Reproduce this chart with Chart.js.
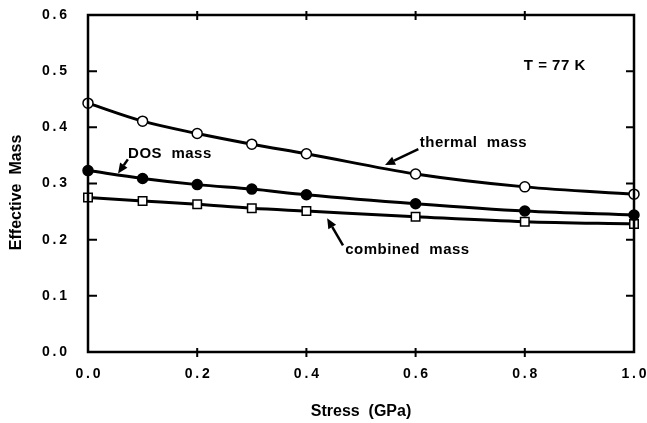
<!DOCTYPE html>
<html>
<head>
<meta charset="utf-8">
<script src="https://cdn.jsdelivr.net/npm/chart.js@4"></script>
<style>
  html, body { margin: 0; padding: 0; background: #fff; }
  #wrap { width: 647px; height: 423px; }
</style>
</head>
<body>
<div id="wrap"><canvas id="chart"></canvas></div>
<script>
const stress = [0.0, 0.1, 0.2, 0.3, 0.4, 0.6, 0.8, 1.0]
const thermalMass = [0.443, 0.411, 0.389, 0.370, 0.353, 0.317, 0.294, 0.281]
const dosMass = [0.323, 0.309, 0.298, 0.290, 0.280, 0.264, 0.251, 0.244]
const combinedMass = [0.275, 0.269, 0.263, 0.256, 0.251, 0.241, 0.232, 0.228]

const xTicks = [0, 0.2, 0.4, 0.6, 0.8, 1.0]
const yTicks = [0, 0.1, 0.2, 0.3, 0.4, 0.5, 0.6]

// annotation texts and arrows, in data units
const notes = [
  { text: 'T = 77 K', x: 0.855, y: 0.51 },
  { text: 'thermal  mass', x: 0.706, y: 0.3726 },
  { text: 'DOS  mass', x: 0.150, y: 0.3525 },
  { text: 'combined  mass', x: 0.585, y: 0.181 }
]
const arrows = [
  { from: [0.605, 0.361], to: [0.544, 0.333] },
  { from: [0.073, 0.343], to: [0.055, 0.318] },
  { from: [0.467, 0.190], to: [0.438, 0.238] }
]

const FONT = '"Liberation Sans", Arial, Helvetica, sans-serif'

function toXY(xs, ys) {
  return xs.map((x, i) => ({ x: x, y: ys[i] }))
}

function spaced(v) {
  return v.toFixed(1).split('').join('\u2009')
}

function noPad(s) {
  s.paddingLeft = 0
  s.paddingRight = 0
  s.paddingTop = 0
  s.paddingBottom = 0
}

const frame = {
  id: 'frame',
  afterDatasetsDraw(chart) {
    const { ctx, chartArea: a, scales: { x, y } } = chart
    ctx.save()
    ctx.strokeStyle = '#000'
    ctx.lineWidth = 2.5
    ctx.strokeRect(a.left, a.top, a.right - a.left, a.bottom - a.top)
    ctx.lineWidth = 2
    ctx.beginPath()
    yTicks.slice(1, -1).forEach(v => {
      const py = y.getPixelForValue(v)
      ctx.moveTo(a.left, py); ctx.lineTo(a.left + 9, py)
      ctx.moveTo(a.right, py); ctx.lineTo(a.right - 8, py)
    })
    xTicks.slice(1, -1).forEach(v => {
      const px = x.getPixelForValue(v)
      ctx.moveTo(px, a.top - 4); ctx.lineTo(px, a.top + 5)
      ctx.moveTo(px, a.bottom - 4); ctx.lineTo(px, a.bottom + 5)
    })
    ctx.stroke()

    ctx.fillStyle = '#000'
    ctx.font = 'bold 15px ' + FONT
    ctx.letterSpacing = '0.5px'
    ctx.textAlign = 'center'
    ctx.textBaseline = 'middle'
    notes.forEach(n => {
      ctx.fillText(n.text, x.getPixelForValue(n.x), y.getPixelForValue(n.y))
    })

    arrows.forEach(ar => {
      const x0 = x.getPixelForValue(ar.from[0]), y0 = y.getPixelForValue(ar.from[1])
      const x1 = x.getPixelForValue(ar.to[0]), y1 = y.getPixelForValue(ar.to[1])
      const ang = Math.atan2(y1 - y0, x1 - x0)
      const hl = 10, hw = 4.5
      const bx = x1 - hl * Math.cos(ang), by = y1 - hl * Math.sin(ang)
      ctx.lineWidth = 2.5
      ctx.beginPath()
      ctx.moveTo(x0, y0); ctx.lineTo(bx, by)
      ctx.stroke()
      ctx.beginPath()
      ctx.moveTo(x1, y1)
      ctx.lineTo(bx + hw * Math.sin(ang), by - hw * Math.cos(ang))
      ctx.lineTo(bx - hw * Math.sin(ang), by + hw * Math.cos(ang))
      ctx.closePath()
      ctx.fill()
    })
    ctx.restore()
  }
}

const base = {
  borderColor: '#000',
  borderWidth: 3,
  pointRadius: 5,
  pointBorderWidth: 1.5,
  pointBorderColor: '#000',
  cubicInterpolationMode: 'monotone',
  clip: false
}

new Chart(document.getElementById('chart'), {
  type: 'line',
  data: {
    datasets: [
      { ...base, label: 'thermal mass', data: toXY(stress, thermalMass),
        pointStyle: 'circle', pointBackgroundColor: '#fff' },
      { ...base, label: 'DOS mass', data: toXY(stress, dosMass),
        pointStyle: 'circle', pointBackgroundColor: '#000' },
      { ...base, label: 'combined mass', data: toXY(stress, combinedMass),
        pointStyle: 'rect', pointRadius: 6, pointBackgroundColor: '#fff' }
    ]
  },
  options: {
    responsive: true,
    maintainAspectRatio: false,
    animation: false,
    layout: { padding: { top: 15, right: 13, bottom: 0, left: 0 } },
    plugins: { legend: { display: false }, tooltip: { enabled: false } },
    scales: {
      x: {
        type: 'linear', min: 0, max: 1,
        border: { display: false },
        grid: { display: false, drawTicks: false },
        afterFit: s => { s.height = 71; noPad(s) },
        afterBuildTicks: s => { s.ticks = xTicks.map(v => ({ value: v })) },
        ticks: {
          color: '#000', padding: 14, maxRotation: 0,
          font: { family: FONT, size: 14, weight: 'bold' },
          callback: v => spaced(v)
        },
        title: {
          display: true, text: 'Stress  (GPa)', color: '#000',
          font: { family: FONT, size: 16, weight: 'bold' },
          padding: { top: 0, bottom: 2 }
        }
      },
      y: {
        type: 'linear', min: 0, max: 0.6,
        border: { display: false },
        grid: { display: false, drawTicks: false },
        afterFit: s => { s.width = 88; noPad(s) },
        afterBuildTicks: s => { s.ticks = yTicks.map(v => ({ value: v })) },
        ticks: {
          color: '#000', padding: 21,
          font: { family: FONT, size: 14, weight: 'bold' },
          callback: v => spaced(v)
        },
        title: {
          display: true, text: 'Effective  Mass\u00a0\u00a0\u00a0\u00a0', color: '#000',
          font: { family: FONT, size: 16, weight: 'bold' },
          padding: { top: 7, bottom: 0 }
        }
      }
    }
  },
  plugins: [frame]
})
</script>
</body>
</html>
